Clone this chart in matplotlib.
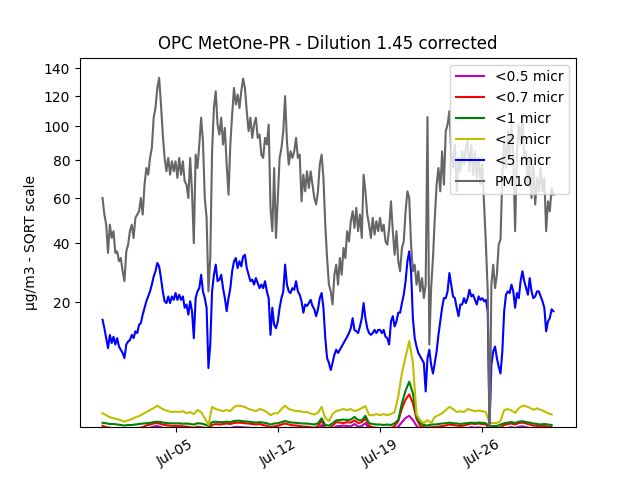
import numpy as np
import pandas as pd
import matplotlib
matplotlib.use("Agg")
import matplotlib.pyplot as plt
import matplotlib.dates as mdates

# PM10, 3-hourly from 2020-06-30 00:00 (one row per day)
pm10 = [
    60.1, 52.3, 47.8, 36.3, 47.8, 42.2, 45.0, 36.3,
    36.9, 33.2, 34.4, 29.7, 26.4, 36.9, 39.5, 45.0,
    47.8, 42.2, 50.8, 52.3, 53.8, 60.1, 52.3, 66.8,
    75.6, 72.0, 81.2, 86.9, 105.6, 112.0, 125.7, 132.9,
    114.3, 95.0, 81.2, 73.8, 81.2, 72.0, 79.3, 73.8,
    79.3, 70.3, 81.2, 72.0, 79.3, 68.5, 66.8, 60.1,
    81.2, 63.4, 40.1, 83.1, 75.6, 89.0, 105.6, 91.0,
    60.1, 50.8, 23.2, 34.4, 85.0, 112.0, 123.4, 101.2,
    95.0, 105.6, 89.0, 99.1, 77.5, 61.7, 89.0, 107.8,
    125.7, 114.3, 121.1, 112.0, 123.4, 132.4, 125.7, 109.9,
    97.1, 105.6, 93.0, 101.2, 105.6, 93.0, 95.0, 83.1,
    81.2, 93.0, 89.0, 101.2, 55.4, 45.0, 75.6, 42.2,
    60.1, 81.2, 86.9, 97.1, 120.0, 91.0, 77.5, 85.0,
    81.2, 85.0, 93.0, 81.2, 83.1, 58.5, 72.0, 63.4,
    73.8, 65.1, 73.8, 66.8, 60.1, 57.0, 63.4, 77.5,
    83.1, 70.3, 47.8, 34.4, 25.3, 23.2, 19.4, 28.5,
    32.0, 25.3, 34.4, 28.5, 38.2, 34.4, 45.0, 40.8,
    49.3, 53.8, 46.4, 55.4, 45.0, 52.3, 42.2, 72.0,
    63.4, 52.3, 47.8, 42.2, 50.8, 43.6, 49.3, 45.0,
    50.8, 45.0, 47.8, 40.8, 39.5, 46.4, 58.5, 45.0,
    35.6, 45.0, 33.2, 29.7, 38.2, 40.8, 53.8, 63.4,
    60.1, 39.5, 29.7, 32.0, 25.3, 29.7, 23.2, 27.4,
    21.2, 25.3, 106.0, 9.9, 24.2, 34.4, 50.8, 66.8,
    75.6, 63.4, 85.0, 66.8, 97.1, 101.2, 109.9, 85.0,
    75.6, 89.0, 63.4, 81.2, 73.8, 85.0, 77.5, 86.9,
    91.0, 73.8, 89.0, 72.0, 85.0, 70.3, 81.2, 66.8,
    77.5, 57.0, 39.5, 23.2, 0.0, 25.3, 32.0, 24.2,
    28.5, 39.5, 41.6, 72.0, 91.0, 75.6, 97.1, 81.2,
    101.2, 81.2, 45.0, 85.0, 101.2, 89.0, 105.6, 81.2,
    85.0, 66.8, 81.2, 60.1, 77.5, 57.0, 70.3, 63.4,
    75.6, 63.4, 70.3, 45.0, 58.5, 53.8, 65.1, 61.7,
]

# <5 micr, 3-hourly
lt5 = [
    15.4, 13.4, 11.2, 9.2, 11.9, 10.2, 11.5, 9.9,
    11.2, 9.5, 8.9, 8.3, 7.4, 9.9, 10.5, 10.8,
    11.9, 11.2, 12.7, 12.3, 14.2, 14.6, 16.7, 18.5,
    20.3, 21.7, 23.2, 25.3, 27.9, 29.7, 32.6, 31.4,
    27.4, 23.2, 20.3, 19.8, 21.7, 19.8, 21.7, 20.7,
    22.7, 20.7, 22.2, 20.7, 21.7, 18.5, 19.4, 16.7,
    20.3, 17.6, 11.2, 21.2, 23.2, 24.2, 28.5, 23.2,
    21.2, 18.5, 5.8, 9.9, 23.2, 28.5, 32.0, 26.4,
    26.9, 28.5, 24.2, 21.2, 17.6, 21.2, 24.2, 29.7,
    33.2, 34.4, 30.8, 33.2, 31.4, 35.0, 35.6, 30.8,
    28.5, 26.4, 26.9, 25.3, 27.4, 25.8, 24.2, 25.3,
    24.2, 26.4, 23.2, 21.2, 11.9, 18.5, 14.2, 13.4,
    15.0, 18.5, 21.2, 23.2, 32.0, 25.3, 23.2, 22.7,
    24.2, 23.7, 26.4, 23.2, 22.2, 20.3, 17.2, 19.4,
    19.0, 19.8, 20.7, 19.0, 18.1, 16.3, 18.1, 21.2,
    22.7, 18.5, 11.2, 7.4, 6.6, 5.5, 6.6, 8.0,
    8.9, 8.3, 8.9, 9.5, 10.2, 10.8, 11.5, 12.3,
    13.4, 15.8, 13.0, 12.7, 12.3, 13.8, 15.8, 19.8,
    15.8, 13.4, 12.3, 11.9, 12.3, 13.0, 12.3, 13.0,
    13.0, 12.3, 13.0, 11.5, 11.2, 9.9, 15.0, 16.3,
    13.8, 15.0, 17.2, 17.2, 19.8, 22.2, 26.4, 33.2,
    36.9, 29.7, 15.8, 11.2, 9.5, 8.3, 7.7, 7.1,
    6.6, 2.8, 7.4, 8.9, 6.3, 5.0, 6.6, 8.6,
    11.9, 15.0, 18.5, 21.2, 21.2, 23.2, 29.1, 25.3,
    21.7, 21.2, 18.5, 16.3, 19.4, 19.4, 21.2, 19.8,
    21.2, 23.7, 21.7, 22.2, 20.7, 19.4, 21.7, 20.7,
    21.2, 20.3, 20.7, 17.6, 0.4, 6.3, 8.6, 9.5,
    7.4, 6.0, 5.0, 8.6, 17.6, 22.2, 23.2, 22.7,
    25.3, 23.2, 18.5, 22.7, 21.2, 26.4, 29.7, 26.4,
    24.2, 22.2, 27.4, 23.2, 21.2, 21.7, 23.2, 23.2,
    21.7, 20.3, 18.5, 12.7, 15.0, 15.8, 18.1, 17.6,
]

# smaller fractions, 6-hourly
lt2 = [
    0.97, 0.86, 0.74, 0.69,  0.64, 0.59, 0.52, 0.59,  0.64, 0.74, 0.80, 0.92,
    1.05, 1.18, 1.32, 1.50,  1.32, 1.18, 1.11, 1.05,  1.08, 1.05, 1.11, 0.97,
    1.05, 0.92, 1.18, 1.05,  0.69, 0.38, 1.40, 1.25,  1.18, 1.11, 1.18, 1.11,
    1.40, 1.50, 1.47, 1.40,  1.25, 1.18, 1.11, 1.25,  1.18, 1.05, 0.86, 0.97,
    0.97, 1.25, 1.50, 1.25,  1.18, 1.11, 1.11, 1.05,  1.05, 0.95, 0.90, 1.00,
    1.41, 0.69, 0.55, 0.92,  1.11, 1.18, 1.25, 1.18,  1.25, 1.11, 1.18, 1.32,
    1.47, 0.86, 0.86, 0.92,  0.86, 0.92, 0.86, 0.92,  1.05, 2.30, 5.10, 7.60,
    10.6, 6.60, 0.90, 0.59,  0.46, 0.59, 0.46, 0.76,  0.85, 0.97, 1.18, 1.41,
    1.25, 1.05, 1.10, 1.05,  1.25, 1.18, 1.10, 1.15,  1.10, 1.05, 0.46, 0.46,
    0.46, 0.55, 1.18, 1.25,  1.15, 1.00, 1.30, 1.50,  1.45, 1.35, 1.20, 1.30,
    1.20, 1.10, 0.97, 0.90,
]
lt1 = [
    0.47, 0.45, 0.42, 0.42,  0.40, 0.38, 0.36, 0.38,  0.38, 0.40, 0.42, 0.44,
    0.45, 0.47, 0.50, 0.52,  0.50, 0.47, 0.45, 0.45,  0.44, 0.45, 0.43, 0.44,
    0.42, 0.40, 0.45, 0.44,  0.40, 0.34, 0.50, 0.52,  0.50, 0.50, 0.52, 0.50,
    0.55, 0.57, 0.55, 0.53,  0.52, 0.50, 0.48, 0.50,  0.48, 0.45, 0.40, 0.44,
    0.45, 0.50, 0.55, 0.50,  0.48, 0.47, 0.45, 0.44,  0.44, 0.42, 0.40, 0.45,
    0.68, 0.38, 0.36, 0.45,  0.58, 0.60, 0.62, 0.60,  0.62, 0.76, 0.60, 0.58,
    0.82, 0.45, 0.42, 0.40,  0.40, 0.38, 0.40, 0.38,  0.45, 0.60, 1.70, 2.90,
    3.90, 2.60, 0.76, 0.45,  0.38, 0.36, 0.40, 0.40,  0.42, 0.44, 0.45, 0.48,
    0.45, 0.44, 0.42, 0.44,  0.46, 0.48, 0.46, 0.48,  0.47, 0.45, 0.33, 0.34,
    0.34, 0.40, 0.45, 0.48,  0.50, 0.46, 0.52, 0.54,  0.50, 0.48, 0.44, 0.42,
    0.40, 0.42, 0.40, 0.38,
]
lt07 = [
    0.35, 0.30, 0.28, 0.26,  0.25, 0.24, 0.22, 0.24,  0.25, 0.27, 0.28, 0.30,
    0.36, 0.40, 0.44, 0.46,  0.42, 0.38, 0.36, 0.35,  0.34, 0.35, 0.33, 0.32,
    0.30, 0.28, 0.32, 0.30,  0.28, 0.24, 0.38, 0.42,  0.40, 0.42, 0.44, 0.42,
    0.46, 0.48, 0.47, 0.45,  0.44, 0.42, 0.40, 0.42,  0.38, 0.35, 0.30, 0.33,
    0.35, 0.40, 0.44, 0.40,  0.37, 0.36, 0.34, 0.32,  0.32, 0.30, 0.28, 0.34,
    0.58, 0.28, 0.26, 0.35,  0.50, 0.48, 0.46, 0.50,  0.48, 0.58, 0.46, 0.50,
    0.68, 0.35, 0.30, 0.28,  0.27, 0.26, 0.28, 0.27,  0.34, 0.55, 1.30, 2.00,
    2.50, 1.70, 0.65, 0.35,  0.30, 0.28, 0.30, 0.30,  0.32, 0.34, 0.36, 0.40,
    0.38, 0.36, 0.34, 0.36,  0.40, 0.44, 0.42, 0.44,  0.42, 0.40, 0.25, 0.24,
    0.24, 0.30, 0.38, 0.42,  0.44, 0.40, 0.46, 0.48,  0.44, 0.40, 0.36, 0.35,
    0.33, 0.34, 0.32, 0.30,
]
lt05 = [
    0.22, 0.20, 0.18, 0.17,  0.16, 0.15, 0.14, 0.15,  0.16, 0.17, 0.18, 0.20,
    0.24, 0.28, 0.32, 0.34,  0.30, 0.26, 0.24, 0.23,  0.22, 0.23, 0.21, 0.20,
    0.19, 0.18, 0.20, 0.19,  0.17, 0.14, 0.24, 0.27,  0.26, 0.27, 0.28, 0.27,
    0.30, 0.31, 0.30, 0.29,  0.28, 0.27, 0.26, 0.27,  0.24, 0.22, 0.19, 0.21,
    0.22, 0.25, 0.28, 0.25,  0.23, 0.22, 0.21, 0.20,  0.20, 0.19, 0.18, 0.22,
    0.38, 0.18, 0.17, 0.23,  0.33, 0.34, 0.36, 0.34,  0.33, 0.42, 0.32, 0.34,
    0.46, 0.24, 0.20, 0.18,  0.18, 0.17, 0.18, 0.18,  0.22, 0.32, 0.50, 0.70,
    0.82, 0.60, 0.35, 0.22,  0.19, 0.18, 0.19, 0.19,  0.20, 0.22, 0.23, 0.26,
    0.24, 0.23, 0.22, 0.23,  0.26, 0.30, 0.28, 0.29,  0.28, 0.26, 0.16, 0.15,
    0.15, 0.19, 0.25, 0.28,  0.30, 0.27, 0.31, 0.33,  0.30, 0.27, 0.24, 0.23,
    0.22, 0.23, 0.21, 0.20,
]

t3 = pd.date_range("2020-06-30", periods=len(pm10), freq="3h")
t6 = pd.date_range("2020-06-30", periods=len(lt2), freq="6h")


def fwd(y):
    return np.sqrt(np.clip(y, 0, None))


def inv(y):
    return np.square(y)


fig, ax = plt.subplots(figsize=(6.4, 4.8), dpi=100)

ax.plot(t6, lt05, color="m", label="<0.5 micr")
ax.plot(t6, lt07, color="r", label="<0.7 micr")
ax.plot(t6, lt1, color="g", label="<1 micr")
ax.plot(t6, lt2, color="y", label="<2 micr")
ax.plot(t3[:len(lt5)], lt5, color="b", label="<5 micr")
ax.plot(t3, pm10, color="0.4", label="PM10")

ax.set_yscale("function", functions=(fwd, inv))
ax.set_ylim(0.3, 148)

ax.xaxis.set_major_locator(mdates.DayLocator(bymonthday=[5, 12, 19, 26]))
ax.xaxis.set_major_formatter(mdates.DateFormatter("%b-%d"))
plt.setp(ax.get_xticklabels(), rotation=30)

ax.set_ylabel("µg/m3 - SQRT scale")
ax.set_title("OPC MetOne-PR - Dilution 1.45 corrected")
ax.legend(loc="upper right")

fig.savefig("out.png", dpi=100)
